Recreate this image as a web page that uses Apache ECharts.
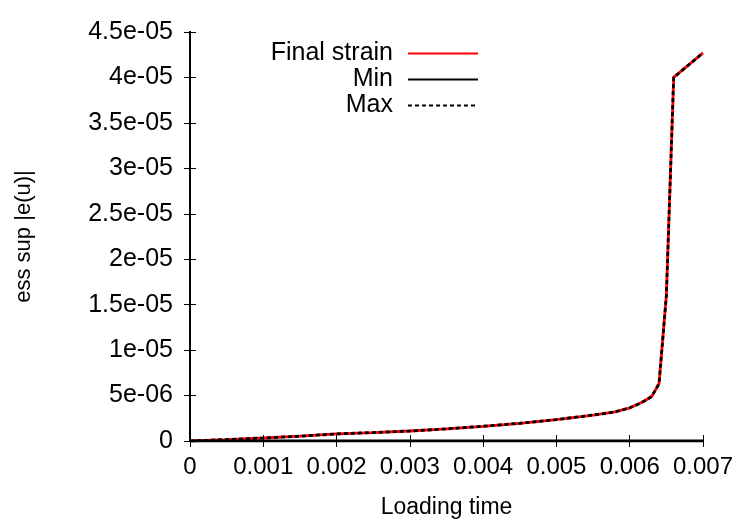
<!DOCTYPE html>
<html>
<head>
<meta charset="utf-8">
<script src="https://cdn.jsdelivr.net/npm/echarts@6/dist/echarts.min.js"></script>
<style>html,body{margin:0;padding:0;background:#fff}#c{width:750px;height:525px}</style>
</head>
<body>
<div id="c"></div>
<script>
var loadingTime = [0, 0.0005, 0.001, 0.0015, 0.002, 0.0025, 0.003, 0.0035, 0.004, 0.0045, 0.005, 0.0055, 0.0058, 0.006, 0.0061, 0.0062, 0.0063, 0.0064, 0.0065, 0.0066, 0.007];
var finalStrain = [0, 1.6e-7, 3.3e-7, 5.3e-7, 7.8e-7, 9.3e-7, 1.1e-6, 1.33e-6, 1.62e-6, 1.95e-6, 2.36e-6, 2.85e-6, 3.2e-6, 3.65e-6, 4.0e-6, 4.4e-6, 4.9e-6, 6.3e-6, 1.6e-5, 4.0e-5, 4.27e-5];
var minStrain = [0, 0, 0, 0, 0, 0, 0, 0, 0, 0, 0, 0, 0, 0, 0, 0, 0, 0, 0, 0, 0];
var maxStrain = [0, 1.6e-7, 3.3e-7, 5.3e-7, 7.8e-7, 9.3e-7, 1.1e-6, 1.33e-6, 1.62e-6, 1.95e-6, 2.36e-6, 2.85e-6, 3.2e-6, 3.65e-6, 4.0e-6, 4.4e-6, 4.9e-6, 6.3e-6, 1.6e-5, 4.0e-5, 4.27e-5];
var xTickLabels = ['0', '0.001', '0.002', '0.003', '0.004', '0.005', '0.006', '0.007'];
var yTickLabels = ['0', '5e-06', '1e-05', '1.5e-05', '2e-05', '2.5e-05', '3e-05', '3.5e-05', '4e-05', '4.5e-05'];
var seriesNames = ['Final strain', 'Min', 'Max'];

function pairs(ys) { return loadingTime.map(function (x, i) { return [x, ys[i]]; }); }

var FONT = 'Liberation Sans';
var chart = echarts.init(document.getElementById('c'));
var legendBase = {
  orient: 'vertical', align: 'right', right: 266, itemWidth: 70, itemHeight: 14,
  textStyle: { fontFamily: FONT, fontSize: 25, color: '#000', padding: [0, 10, 0, 0] },
  itemStyle: { opacity: 0 },
  selectedMode: false
};
function legendAt(name, top) {
  return Object.assign({}, legendBase, { data: [name], top: top });
}
var axisCommon = {
  axisLine: { show: true, lineStyle: { color: '#000', width: 2 } },
  splitLine: { show: false }
};
var tick = { inside: true, length: 6, lineStyle: { color: '#000', width: 1 } };
chart.setOption({
  animation: false,
  backgroundColor: '#fff',
  grid: { left: 190, width: 513, top: 32, height: 409 },
  legend: [legendAt(seriesNames[0], 36), legendAt(seriesNames[1], 62), legendAt(seriesNames[2], 88)],
  xAxis: [
    Object.assign({}, axisCommon, {
      type: 'value', min: 0, max: 0.007, interval: 0.001,
      name: 'Loading time', nameLocation: 'middle', nameGap: 55,
      nameTextStyle: { fontFamily: FONT, fontSize: 23, color: '#000' },
      axisTick: tick,
      axisLabel: { fontFamily: FONT, fontSize: 24, color: '#000', margin: 14,
        formatter: function (v) { return xTickLabels[Math.round(v / 0.001)]; } }
    }),
    Object.assign({}, axisCommon, {
      type: 'value', position: 'top', min: 0, max: 0.007, interval: 0.001,
      axisTick: tick, axisLabel: { show: false }
    })
  ],
  yAxis: [
    Object.assign({}, axisCommon, {
      type: 'value', min: 0, max: 4.5e-5, interval: 5e-6,
      name: 'ess sup |e(u)|', nameLocation: 'middle', nameGap: 155, nameRotate: 90,
      nameTextStyle: { fontFamily: FONT, fontSize: 22, color: '#000' },
      axisTick: tick,
      axisLabel: { fontFamily: FONT, fontSize: 25, color: '#000', margin: 17,
        formatter: function (v) { return yTickLabels[Math.round(v / 5e-6)]; } }
    }),
    Object.assign({}, axisCommon, {
      type: 'value', position: 'right', min: 0, max: 4.5e-5, interval: 5e-6,
      axisTick: tick, axisLabel: { show: false }
    })
  ],
  series: [
    { name: seriesNames[0], type: 'line', data: pairs(finalStrain), symbol: 'none',
      lineStyle: { color: '#ff0000', width: 2.8 }, itemStyle: { color: '#ff0000' } },
    { name: seriesNames[1], type: 'line', data: pairs(minStrain), symbol: 'none',
      lineStyle: { color: '#000', width: 2.8 }, itemStyle: { color: '#000' } },
    { name: seriesNames[2], type: 'line', data: pairs(maxStrain), symbol: 'none',
      lineStyle: { color: '#000', width: 2.8, type: [4, 3] }, itemStyle: { color: '#000' } }
  ]
});
</script>
</body>
</html>
